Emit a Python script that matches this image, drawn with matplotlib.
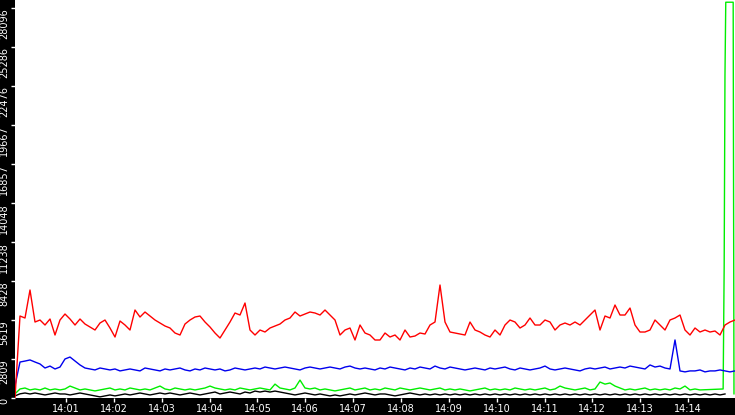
import matplotlib
matplotlib.use("Agg")
import matplotlib.pyplot as plt
import numpy as np

# sample times (seconds after 14:00:00), one sample every ~6.27 s
t_start = -4.0
t_step = 6.27

red = [0, 5904, 5760, 7776, 5472, 5616, 5256, 5688, 4536, 5616, 6048, 5688, 5256, 5688, 5328, 5112,
       4896, 5400, 5616, 5040, 4392, 5544, 5256, 4896, 6336, 5832, 6192, 5904, 5616, 5400, 5184,
       5040, 4680, 4536, 5328, 5616, 5832, 5904, 5472, 5112, 4680, 4320, 4896, 5472, 6120, 5976,
       6840, 4896, 4536, 4896, 4752, 5040, 5184, 5328, 5616, 5760, 6192, 5904, 6048, 6192, 6120,
       5976, 6336, 5976, 5616, 4536, 4896, 5040, 4176, 5256, 4680, 4536, 4176, 4176, 4680, 4392,
       4536, 4176, 4896, 4392, 4464, 4680, 4608, 5256, 5472, 8136, 5472, 4752, 4680, 4608, 4536,
       5472, 4896, 4752, 4536, 4392, 4896, 4536, 5256, 5616, 5472, 5040, 5256, 5760, 5256, 5256,
       5616, 5472, 4896, 5256, 5400, 5256, 5472, 5256, 5616, 5976, 6336, 4896, 5904, 5760, 6696,
       5976, 5976, 6480, 5256, 4752, 4752, 4896, 5616, 5256, 4896, 5616, 5760, 5976, 4896, 4536,
       5040, 4752, 4896, 4752, 4824, 4536, 5256, 5472, 5616]

blue = [900, 2590, 2660, 2740, 2590, 2450, 2160, 2300, 2090, 2230, 2810, 2950, 2660, 2380, 2160,
        2090, 2020, 2160, 2090, 2020, 2090, 1950, 2020, 2090, 2020, 1950, 2160, 2090, 2020, 1950,
        2090, 2020, 2090, 2160, 2020, 1950, 2090, 2020, 2160, 2090, 2020, 2090, 1950, 2020, 2160,
        2090, 2020, 2090, 2160, 2090, 2230, 2160, 2090, 2160, 2230, 2160, 2090, 2020, 2160, 2230,
        2160, 2090, 2160, 2230, 2160, 2090, 2230, 2300, 2160, 2090, 2160, 2090, 2020, 2160, 2090,
        2230, 2160, 2090, 2020, 2160, 2090, 2230, 2160, 2090, 2300, 2160, 2090, 2230, 2160, 2090,
        2020, 2090, 2160, 2090, 2020, 2160, 2090, 2160, 2230, 2090, 2020, 2160, 2090, 2020, 2090,
        2160, 2300, 2090, 2020, 2090, 2160, 2090, 2020, 1950, 2090, 2160, 2090, 2160, 2230, 2090,
        2160, 2230, 2160, 2300, 2230, 2160, 2090, 2380, 2230, 2300, 2160, 2090, 4180, 1950, 1880,
        1950, 1950, 2020, 1880, 1950, 1950, 2020, 1950, 1880, 1950, 2020]

green = [300, 650, 720, 580, 650, 580, 720, 580, 650, 580, 650, 860, 720, 580, 650, 580, 510, 580,
         650, 720, 580, 650, 580, 720, 650, 580, 650, 580, 720, 860, 650, 580, 720, 650, 580, 650,
         580, 650, 720, 860, 720, 650, 580, 650, 580, 720, 650, 580, 650, 720, 650, 580, 1000, 720,
         650, 580, 720, 1290, 720, 650, 720, 580, 650, 580, 510, 580, 650, 720, 580, 650, 720, 580,
         650, 580, 720, 650, 580, 720, 650, 580, 650, 720, 650, 580, 650, 720, 580, 650, 580, 650,
         580, 510, 580, 650, 720, 580, 650, 580, 650, 580, 720, 650, 580, 650, 580, 650, 720, 580,
         650, 860, 720, 650, 580, 650, 720, 580, 650, 1150, 1000, 1080, 860, 720, 580, 650, 580, 650,
         720, 580, 650, 580, 650, 580, 720, 650, 860, 580, 650, 580]
green_tail_t = [884.0, 885.3, 886.3, 887.3, 896.6, 897.6]
green_tail = [650, 9430, 23200, 28500, 28500, 300]

black = [150, 300, 360, 290, 360, 290, 220, 290, 360, 290, 290, 220, 290, 360, 290, 220, 150, 80,
         150, 220, 150, 220, 290, 220, 290, 360, 290, 220, 290, 360, 290, 360, 290, 220, 290, 360,
         290, 220, 290, 360, 430, 290, 360, 430, 360, 290, 430, 360, 500, 430, 500, 430, 500, 430,
         360, 290, 220, 290, 360, 290, 220, 290, 220, 150, 220, 150, 220, 290, 220, 290, 360, 290,
         220, 290, 290, 220, 150, 220, 290, 360, 290, 220, 290, 220, 290, 220, 290, 220, 290, 220,
         290, 220, 290, 220, 290, 220, 290, 220, 290, 220, 290, 220, 290, 220, 290, 220, 290, 220,
         290, 220, 290, 220, 290, 220, 290, 220, 290, 220, 290, 220, 290, 220, 290, 220, 290, 220,
         290, 220, 290, 220, 290, 220, 290, 220, 290, 220, 290, 220, 290, 220, 290, 220, 290]

y_ticks = [0, 2809, 5619, 8428, 11238, 14048, 16857, 19667, 22476, 25286, 28096]
x_tick_labels = ["14:01", "14:02", "14:03", "14:04", "14:05", "14:06", "14:07", "14:08",
                 "14:09", "14:10", "14:11", "14:12", "14:13", "14:14"]

def times(n):
    return t_start + t_step * np.arange(n)

fig = plt.figure(figsize=(7.35, 4.15), dpi=100, facecolor="black")
ax = fig.add_axes([15 / 735, 17 / 415, 720 / 735, 398 / 415])
ax.set_facecolor("white")

lw = 1.0
ax.plot(times(len(black)), black, color="black", lw=lw)
gt = np.concatenate([times(len(green)), green_tail_t])
gv = np.concatenate([green, green_tail])
ax.plot(gt, gv, color="#00ee00", lw=lw)
ax.plot(times(len(blue)), blue, color="#0000ee", lw=lw)
ax.plot(times(len(red)), red, color="#ff0000", lw=lw)

ax.set_xlim(t_start, t_start + t_step * 144)
ax.set_ylim(0, 28660)
ax.set_xticks([60 * (i + 1) for i in range(len(x_tick_labels))])
ax.set_xticklabels(x_tick_labels)
ax.set_yticks(y_ticks)
ax.set_yticklabels([str(v) for v in y_ticks])
for lab in ax.get_yticklabels():
    lab.set_rotation(90)
    lab.set_rotation_mode("anchor")
    lab.set_ha("right")
    lab.set_va("center")
ax.tick_params(colors="white", labelsize=7, length=3, width=1)
ax.tick_params(axis="y", pad=5)
ax.tick_params(axis="x", pad=1)
for s in ax.spines.values():
    s.set_visible(False)

fig.savefig("out.png", dpi=100, facecolor="black")
